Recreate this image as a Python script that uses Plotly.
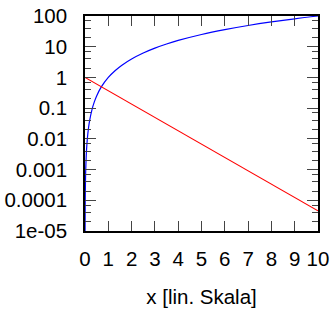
import plotly.graph_objects as go

# Data
blue_x = [0.002, 0.01, 0.02, 0.03, 0.05, 0.07, 0.1, 0.15, 0.2, 0.3, 0.4, 0.5, 0.7, 1.0, 1.3, 1.6, 2.0, 2.5,
          3.0, 3.5, 4.0, 5.0, 6.0, 7.0, 8.0, 9.0, 10.0]
blue_y = [0.000004, 0.0001, 0.0004, 0.0009, 0.0025, 0.0049, 0.01, 0.0225, 0.04, 0.09, 0.16, 0.25, 0.49, 1.0,
          1.69, 2.56, 4.0, 6.25, 9.0, 12.25, 16.0, 25.0, 36.0, 49.0, 64.0, 81.0, 100.0]

red_x = [0, 2, 4, 6, 8, 10]
red_y = [1.0, 0.135, 0.0183, 0.00248, 0.000335, 0.0000454]

y_tickvals = [100, 10, 1, 0.1, 0.01, 0.001, 0.0001, 0.00001]
y_ticktext = ["100", "10", "1", "0.1", "0.01", "0.001", "0.0001", "1e-05"]
x_tickvals = [0, 1, 2, 3, 4, 5, 6, 7, 8, 9, 10]
x_title = "x [lin. Skala]"

minor_vals = []
for dec in [0.00001, 0.0001, 0.001, 0.01, 0.1, 1, 10]:
    for m in [2, 4, 7]:
        minor_vals.append(dec * m)

fig = go.Figure()
fig.add_trace(go.Scatter(x=blue_x, y=blue_y, mode="lines", line=dict(color="#0000ff", width=1.2),
                         line_shape="spline", showlegend=False))
fig.add_trace(go.Scatter(x=red_x, y=red_y, mode="lines", line=dict(color="#ff0000", width=1.2),
                         showlegend=False))

font = dict(family="Liberation Sans, Arial, sans-serif", size=20.5, color="black")

fig.update_layout(
    width=335, height=309,
    margin=dict(l=85, r=17, t=16, b=78),
    plot_bgcolor="white", paper_bgcolor="white",
    font=font,
    showlegend=False,
)
fig.update_xaxes(
    range=[0, 10], tickvals=x_tickvals, ticks="inside", ticklen=10, tickcolor="#444", tickwidth=1,
    mirror="allticks", showline=True, linecolor="black", linewidth=1.5, showgrid=False, zeroline=False,
    ticklabelstandoff=9, automargin=False,
    title=dict(text=x_title, font=font, standoff=20),
)
fig.update_yaxes(
    type="log", range=[-5, 2], tickvals=y_tickvals, ticktext=y_ticktext,
    ticks="inside", ticklen=11, tickcolor="#444", tickwidth=1,
    mirror="allticks", showline=True, linecolor="black", linewidth=1.5, showgrid=False, zeroline=False,
    ticklabelstandoff=12, automargin=False,
    minor=dict(tickvals=minor_vals, ticks="inside", ticklen=6, tickcolor="#444", tickwidth=1, showgrid=False),
)
fig.write_html("out.html", config={"displayModeBar": False},
               post_script="document.body.style.margin='0';document.body.style.overflow='hidden';")
